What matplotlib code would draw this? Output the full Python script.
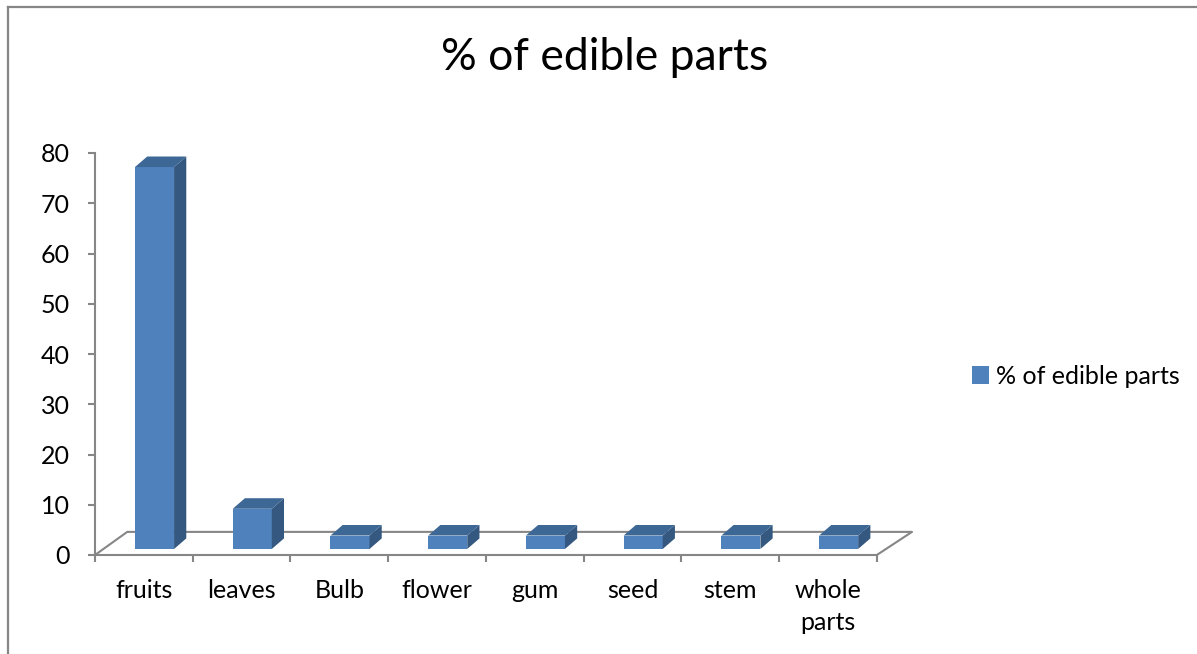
import numpy as np
import matplotlib.pyplot as plt
from matplotlib.patches import Polygon, Patch
from matplotlib.lines import Line2D

categories = ["fruits", "leaves", "Bulb", "flower", "gum", "seed", "stem", "whole\nparts"]
values = [76, 8, 2.67, 2.67, 2.67, 2.67, 2.67, 2.67]
series_name = "% of edible parts"
yticks = [0, 10, 20, 30, 40, 50, 60, 70, 80]

front_col = "#4F81BD"
side_col = "#34587F"
top_col = "#3D6896"
grey = "#868686"

plt.rcParams["font.family"] = ["Lato", "DejaVu Sans"]

fig = plt.figure(figsize=(11.97, 6.54), dpi=100)
ax = fig.add_axes([95 / 1197, 1 - 555 / 654, (912 - 95) / 1197, (555 - 153) / 654])

n = len(categories)
ax.set_xlim(0, 8.36)
ax.set_ylim(0, 80)

# 3d-ish offsets in data units
floor_dx, floor_dy = 0.33, 4.6
bar_dx, bar_dy = 0.125, 2.1
bar_left, bar_w = 0.409, 0.40
bar_base = 1.2

# floor
xs = [0, floor_dx, n + floor_dx + 0.03, n]
ys = [0, floor_dy, floor_dy, 0]
ax.plot(xs, ys, color=grey, lw=1.5, clip_on=False, zorder=1)

for i, v in enumerate(values):
    xl = i + bar_left
    xr = xl + bar_w
    b = bar_base
    t = b + v
    ax.bar(xl, v, width=bar_w, bottom=b, align="edge", color=front_col,
           edgecolor="none", zorder=3)
    side = Polygon([(xr, b), (xr, t), (xr + bar_dx, t + bar_dy), (xr + bar_dx, b + bar_dy)],
                   closed=True, facecolor=side_col, edgecolor="none", zorder=3)
    top = Polygon([(xl, t), (xr, t), (xr + bar_dx, t + bar_dy), (xl + bar_dx, t + bar_dy)],
                  closed=True, facecolor=top_col, edgecolor="none", zorder=3)
    ax.add_patch(side)
    ax.add_patch(top)

for s in ["top", "right"]:
    ax.spines[s].set_visible(False)
ax.spines["left"].set_bounds(0, 80)
ax.spines["bottom"].set_bounds(0, n)
for s in ["left", "bottom"]:
    ax.spines[s].set_color(grey)
    ax.spines[s].set_linewidth(1.5)

ax.set_yticks(yticks)
ax.set_yticklabels([str(t) for t in yticks])
ax.tick_params(axis="y", direction="out", length=5, width=1.5, color=grey,
               pad=13, labelsize=18)

ax.set_xticks(np.arange(n + 1))
ax.set_xticklabels([])
ax.set_xticks(np.arange(n) + 0.5, minor=True)
ax.set_xticklabels(categories, minor=True, linespacing=1.5)
ax.tick_params(axis="x", which="major", direction="out", length=5, width=1.5, color=grey)
ax.tick_params(axis="x", which="minor", length=0, pad=17, labelsize=18)

fig.text(0.505, 1 - 57 / 654, series_name, ha="center", va="center", fontsize=32)

fig.legend(handles=[Patch(facecolor=front_col, edgecolor="none", label=series_name)],
           loc="center left", bbox_to_anchor=(949 / 1197, 1 - 376 / 654), frameon=False,
           fontsize=18, handlelength=0.7, handleheight=0.7, handletextpad=0.3)

# chart frame
fig.add_artist(Line2D([7.5 / 1197, 7.5 / 1197], [0, 1 - 6.5 / 654], color=grey, lw=1.6,
                      transform=fig.transFigure))
fig.add_artist(Line2D([7.5 / 1197, 1], [1 - 6.5 / 654, 1 - 6.5 / 654], color=grey, lw=1.6,
                      transform=fig.transFigure))

fig.savefig("out.png", dpi=100)
